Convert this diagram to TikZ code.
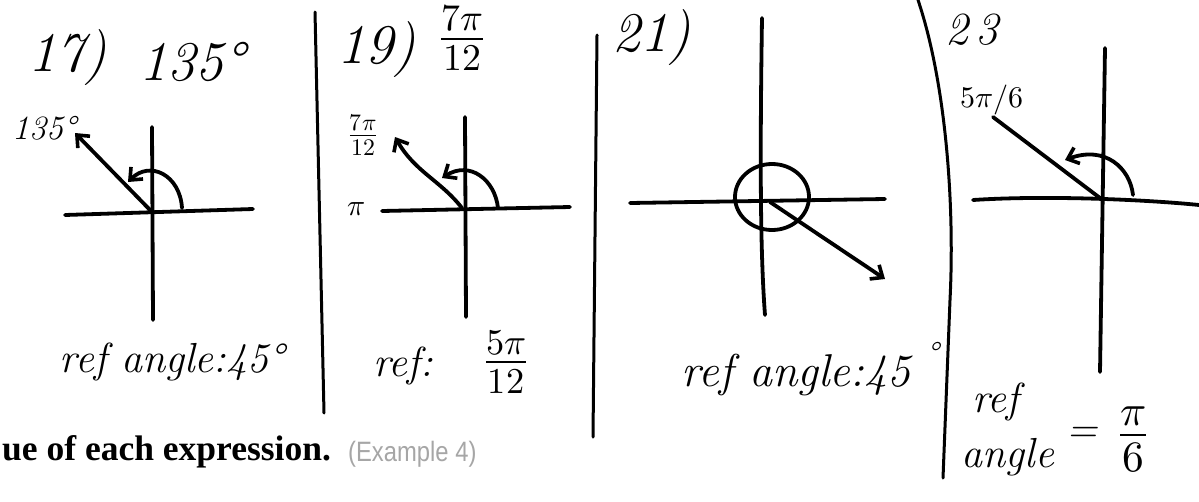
\documentclass[tikz,border=0pt]{standalone}
\usepackage{fontspec}
\usepackage{unicode-math}
\usetikzlibrary{arrows.meta}
\newfontfamily\printfont{Liberation Serif}
\newfontfamily\notefont{Liberation Sans}

\begin{document}
\begin{tikzpicture}[x=1pt, y=-1pt,
        pen/.style={line width=3.8pt, line cap=round, line join=round},
        ray/.style={pen, -{Straight Barb[length=10pt, width=17pt, line width=3.6pt]}},
        divider/.style={line width=3pt, line cap=round},
        big/.style={font=\fontsize{56}{60}\selectfont\itshape, inner sep=0pt},
        hand/.style={font=\fontsize{42}{46}\selectfont\itshape, inner sep=0pt},
        tag/.style={font=\fontsize{34}{36}\selectfont\itshape, inner sep=0pt}
    ]
    \useasboundingbox (0,0) rectangle (1199,501);

    % ---- 17) 135 degrees ----
    \node[big] (num17) at (68,58) {17)};
    \node[big] (ang17) at (192,62) {135°};
    \node[tag] (lab17) at (44,128) {135°};
    \draw[pen] (65,215) -- (253,209);
    \draw[pen] (152,127) -- (153,320);
    \draw[ray] (152,212) -- (75,133);
    \draw[ray] (182,208) .. controls (180,175) and (150,160) .. (128,182);
    \node[hand] (ref17) at (172,362) {ref angle:45°};

    % ---- 19) 7pi/12 ----
    \draw[divider] (315,12) -- (324,413);
    \node[big] (num19) at (377,50) {19)};
    \node[font=\fontsize{54}{58}\selectfont, inner sep=0pt] (ang19) at (462,38) {$\frac{7\pi}{12}$};
    \node[font=\fontsize{34}{36}\selectfont, inner sep=0pt] (lab19) at (363,135) {$\frac{7\pi}{12}$};
    \node[font=\fontsize{30}{32}\selectfont, inner sep=0pt] (pi19) at (356,209) {$\pi$};
    \draw[pen] (382,211) -- (570,207);
    \draw[pen] (465,117) -- (466,317);
    \draw[ray] (462,208) .. controls (440,180) and (415,172) .. (395,137);
    \draw[ray] (498,208) .. controls (495,180) and (470,160) .. (442,178);
    \node[hand] (ref19) at (403,366) {ref:};
    \node[font=\fontsize{52}{56}\selectfont, inner sep=0pt] (frac19) at (506,362) {$\frac{5\pi}{12}$};
    \draw[divider] (597,35) -- (593,437);

    % ---- 21) ----
    \node[big] (num21) at (652,38) {21)};
    \draw[pen] (630,203) -- (885,199);
    \draw[pen] (762,18) .. controls (760,150) and (760,250) .. (765,315);
    \draw[pen] (772,197) ellipse [x radius=37, y radius=33];
    \draw[ray] (770,202) -- (885,279);
    \node[font=\fontsize{46}{50}\selectfont\itshape, inner sep=0pt] (ref21) at (796,375) {ref angle:45};
    \node[tag] (deg21) at (932,354) {°};

    % ---- 23) 5pi/6 ----
    \draw[divider] (918,0) .. controls (945,80) and (955,200) .. (950,300) -- (943,478);
    \node[font=\fontsize{46}{50}\selectfont\itshape, inner sep=0pt] (num23) at (972,30) {2\,3};
    \node[font=\fontsize{30}{32}\selectfont, inner sep=0pt] (lab23) at (992,100) {$5\pi/6$};
    \draw[pen] (973,200) .. controls (1050,195) and (1150,200) .. (1199,205);
    \draw[pen] (1105,48) -- (1100,372);
    \draw[pen] (1100,198) -- (993,117);
    \draw[ray] (1133,195) .. controls (1130,168) and (1105,145) .. (1065,160);
    \node[hand] (ref23) at (996,402) {ref};
    \node[hand] (angle23) at (1008,457) {angle};
    \node[hand] (eq23) at (1082,435) {=};
    \node[font=\fontsize{62}{66}\selectfont, inner sep=0pt] (frac23) at (1133,440) {$\frac{\pi}{6}$};

    % ---- printed line of the page ----
    \node[font=\printfont\bfseries\fontsize{35.5}{38}\selectfont, anchor=base west, inner sep=0pt] (task) at (2,460) {ue of each expression.};
    \node[font=\notefont\fontsize{28}{30}\selectfont, text=gray!70, anchor=base west, inner sep=0pt, xscale=0.85] (note) at (348,461) {(Example 4)};
\end{tikzpicture}
\end{document}
